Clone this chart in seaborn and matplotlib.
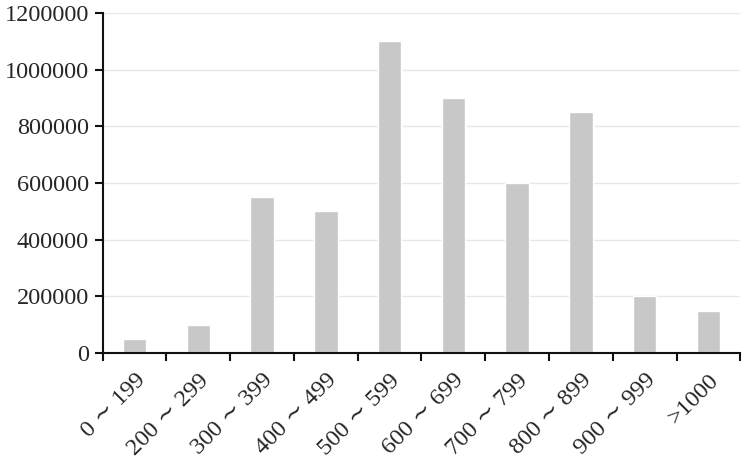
import matplotlib
matplotlib.use("Agg")
import matplotlib.pyplot as plt
import seaborn as sns
import pandas as pd

# data
categories = ["0 ∼ 199", "200 ∼ 299", "300 ∼ 399", "400 ∼ 499", "500 ∼ 599",
              "600 ∼ 699", "700 ∼ 799", "800 ∼ 899", "900 ∼ 999", ">1000"]
counts = [50000, 100000, 550000, 500000, 1100000,
          900000, 600000, 850000, 200000, 150000]
y_ticks = [0, 200000, 400000, 600000, 800000, 1000000, 1200000]

df = pd.DataFrame({"range": categories, "count": counts})

sns.set_style("white")
plt.rcParams["font.family"] = ["Liberation Serif", "DejaVu Serif"]

fig = plt.figure(figsize=(7.44, 4.58), dpi=100)
ax = fig.add_axes([0.138, 0.229, 0.857, 0.743])

sns.barplot(data=df, x="range", y="count", color="#c8c8c8",
            width=0.37, saturation=1, ax=ax, zorder=2)

ax.set_ylim(0, 1200000)
ax.set_xlim(-0.5, len(categories) - 0.5)
ax.set_yticks(y_ticks)
ax.set_yticklabels([str(v) for v in y_ticks], fontsize=17.5)
ax.yaxis.grid(True, color="#e8e8e8", linewidth=1, zorder=0)

# ticks on the category boundaries, labels at bar centres
ax.set_xticks([i + 0.5 for i in range(-1, len(categories))], minor=False)
ax.set_xticklabels([])
ax.set_xticks(range(len(categories)), minor=True)
ax.set_xticklabels(categories, minor=True, rotation=45, ha="right",
                   rotation_mode="anchor", fontsize=17.5)
ax.tick_params(axis="x", which="minor", bottom=False, length=0, pad=12)
ax.tick_params(axis="x", which="major", bottom=True, length=6, width=1.5,
               direction="out", color="#111111")
ax.tick_params(axis="y", left=True, length=6, width=1.5, direction="out",
               pad=4, color="#111111")

ax.set_xlabel("")
ax.set_ylabel("")
sns.despine(ax=ax)
for s in ["left", "bottom"]:
    ax.spines[s].set_linewidth(1.5)
    ax.spines[s].set_color("#111111")

fig.savefig("out.png", dpi=100)
